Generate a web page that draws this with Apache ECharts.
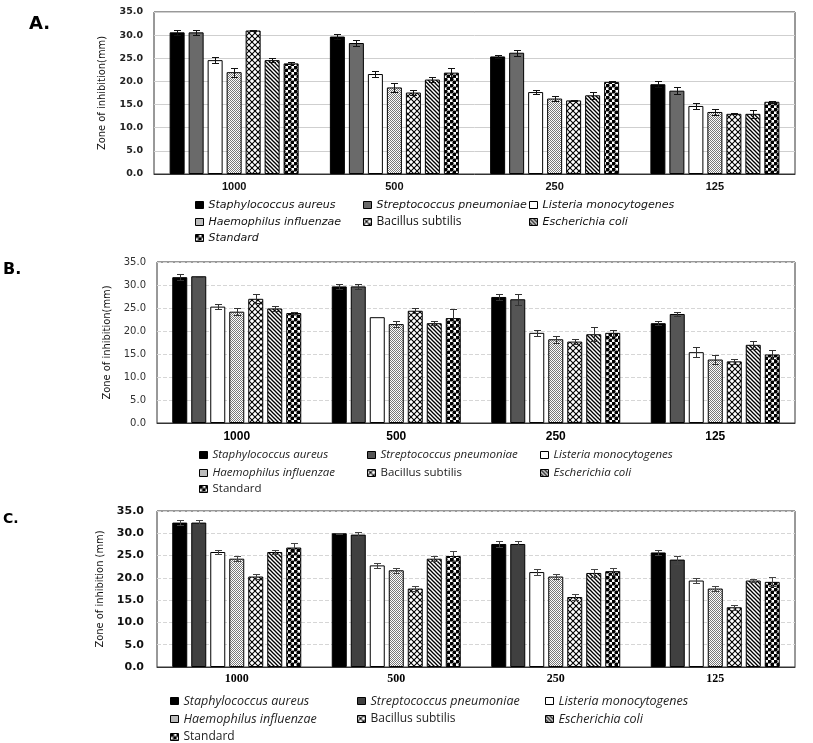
<!DOCTYPE html>
<html><head><meta charset="utf-8">
<script src="https://cdn.jsdelivr.net/npm/echarts@6/dist/echarts.min.js"></script>
<style>html,body{margin:0;padding:0;background:#fff}#c{width:813px;height:743px}</style>
</head><body><div id="c"></div>
<script>
// ---------- DATA ----------
const categories = ['1000', '500', '250', '125'];
const species = ['Staphylococcus aureus', 'Streptococcus pneumoniae', 'Listeria monocytogenes',
  'Haemophilus influenzae', 'Bacillus subtilis', 'Escherichia coli', 'Standard'];

// Panel A
const aStaph = [30.6, 29.7, 25.4, 19.4];
const aStrep = [30.6, 28.3, 26.2, 18.0];
const aList  = [24.6, 21.6, 17.7, 14.7];
const aHaem  = [22.0, 18.7, 16.3, 13.4];
const aBac   = [31.0, 17.6, 15.9, 13.0];
const aEcoli = [24.6, 20.4, 17.0, 13.0];
const aStd   = [23.9, 21.9, 19.9, 15.6];
const aStaphErr = [0.6, 0.5, 0.4, 0.6];
const aStrepErr = [0.6, 0.6, 0.6, 0.7];
const aListErr  = [0.6, 0.6, 0.4, 0.6];
const aHaemErr  = [1.0, 1.0, 0.5, 0.6];
const aBacErr   = [0.1, 0.6, 0.1, 0.1];
const aEcoliErr = [0.5, 0.5, 0.8, 0.9];
const aStdErr   = [0.2, 1.0, 0.1, 0.2];

// Panel B
const bStaph = [31.7, 29.7, 27.4, 21.7];
const bStrep = [31.9, 29.7, 26.9, 23.7];
const bList  = [25.3, 23.0, 19.6, 15.4];
const bHaem  = [24.2, 21.5, 18.2, 13.8];
const bBac   = [27.0, 24.4, 17.7, 13.4];
const bEcoli = [24.9, 21.7, 19.3, 17.0];
const bStd   = [23.9, 22.8, 19.6, 14.9];
const bStaphErr = [0.6, 0.6, 0.6, 0.5];
const bStrepErr = [0.1, 0.6, 1.2, 0.5];
const bListErr  = [0.6, 0.05, 0.6, 1.1];
const bHaemErr  = [0.7, 0.6, 0.7, 1.0];
const bBacErr   = [1.0, 0.5, 0.6, 0.5];
const bEcoliErr = [0.5, 0.5, 1.5, 0.9];
const bStdErr   = [0.2, 1.9, 0.7, 1.0];

// Panel C
const cStaph = [32.4, 30.0, 27.6, 25.7];
const cStrep = [32.4, 29.7, 27.6, 24.1];
const cList  = [25.8, 22.8, 21.3, 19.4];
const cHaem  = [24.3, 21.7, 20.3, 17.6];
const cBac   = [20.3, 17.6, 15.7, 13.4];
const cEcoli = [25.8, 24.3, 21.1, 19.4];
const cStd   = [26.8, 24.9, 21.5, 19.1];
const cStaphErr = [0.6, 0.05, 0.6, 0.6];
const cStrepErr = [0.6, 0.5, 0.6, 0.9];
const cListErr  = [0.5, 0.6, 0.6, 0.5];
const cHaemErr  = [0.6, 0.6, 0.5, 0.5];
const cBacErr   = [0.5, 0.5, 0.6, 0.5];
const cEcoliErr = [0.4, 0.6, 0.9, 0.4];
const cStdErr   = [1.1, 1.2, 0.8, 1.0];

const yMin = 0, yMax = 35, yStep = 5;

// ---------- STYLE / LAYOUT ----------
const BAR_W = 15, BAR_GAP_PX = 4, PITCH = BAR_W + BAR_GAP_PX, CAP = 7;

function makePattern(kind) {
  const c = document.createElement('canvas');
  let ctx;
  if (kind === 'haem') {
    c.width = c.height = 4; ctx = c.getContext('2d');
    ctx.fillStyle = '#fff'; ctx.fillRect(0, 0, 4, 4);
    ctx.fillStyle = '#7a7a7a';
    for (let y = 0; y < 4; y++) for (let x = 0; x < 4; x++) if ((x + y) % 2 === 0) ctx.fillRect(x, y, 1, 1);
  } else if (kind === 'bac') {
    c.width = c.height = 6; ctx = c.getContext('2d');
    ctx.fillStyle = '#fff'; ctx.fillRect(0, 0, 6, 6);
    ctx.strokeStyle = '#000'; ctx.lineWidth = 1.1;
    for (const k of [-6, 0, 6]) {
      ctx.beginPath(); ctx.moveTo(-2, -2 + k); ctx.lineTo(8, 8 + k); ctx.stroke();
      ctx.beginPath(); ctx.moveTo(-2, 8 + k); ctx.lineTo(8, -2 + k); ctx.stroke();
    }
  } else if (kind === 'ecoli') {
    c.width = c.height = 4; ctx = c.getContext('2d');
    ctx.fillStyle = '#fff'; ctx.fillRect(0, 0, 4, 4);
    ctx.strokeStyle = '#000'; ctx.lineWidth = 1.3;
    for (const k of [-4, 0, 4]) { ctx.beginPath(); ctx.moveTo(-1, -1 + k); ctx.lineTo(5, 5 + k); ctx.stroke(); }
  } else if (kind === 'std') {
    c.width = c.height = 6; ctx = c.getContext('2d');
    ctx.fillStyle = '#fff'; ctx.fillRect(0, 0, 6, 6);
    ctx.fillStyle = '#000';
    for (const [x, y] of [[1.5, 1.5], [4.5, 4.5]]) { ctx.beginPath(); ctx.arc(x, y, 2.1, 0, Math.PI * 2); ctx.fill(); }
  }
  return { image: c, repeat: 'repeat' };
}

const panels = [
  {
    id: 'A', label: 'A.', labelPos: [29, 15], labelSize: 18,
    grid: { left: 154, right: 18, top: 12, height: 162 },
    values: [aStaph, aStrep, aList, aHaem, aBac, aEcoli, aStd],
    errors: [aStaphErr, aStrepErr, aListErr, aHaemErr, aBacErr, aEcoliErr, aStdErr],
    strepColor: '#6a6a6a', errColor: '#111',
    yTitle: 'Zone of inhibition(mm)', nameGap: 46,
    yLabel: { fontFamily: 'DejaVu Sans', fontWeight: 'bold', fontSize: 9.5, color: '#222', margin: 11 },
    xLabel: { fontFamily: 'Liberation Sans, Arial', fontWeight: 'bold', fontSize: 11, color: '#111', margin: 7 },
    split: { color: '#cfcfcf', type: 'solid' },
    legendCols: [195, 363, 529], legendRows: [205, 222, 238],
    legendFont: { fontFamily: 'DejaVu Sans', fontSize: 11, color: '#111' },
    italic: [1, 1, 1, 1, 0, 1, 1],
    plainFont: { fontFamily: 'Open Sans', fontSize: 12 }
  },
  {
    id: 'B', label: 'B.', labelPos: [3, 262], labelSize: 16,
    grid: { left: 157, right: 18, top: 262, height: 161 },
    values: [bStaph, bStrep, bList, bHaem, bBac, bEcoli, bStd],
    errors: [bStaphErr, bStrepErr, bListErr, bHaemErr, bBacErr, bEcoliErr, bStdErr],
    strepColor: '#555555', errColor: '#333',
    yTitle: 'Zone of inhibition(mm)', nameGap: 44,
    yLabel: { fontFamily: 'DejaVu Sans', fontWeight: 'normal', fontSize: 10, color: '#333', margin: 11 },
    xLabel: { fontFamily: 'Liberation Sans, Arial', fontWeight: 'bold', fontSize: 12, color: '#000', margin: 8 },
    split: { color: '#d6d6d6', type: 'dashed' },
    legendCols: [199, 367, 540], legendRows: [455, 473, 489],
    legendFont: { fontFamily: 'Open Sans', fontSize: 11.5, color: '#222' },
    italic: [1, 1, 1, 1, 0, 1, 0],
    plainFont: { fontFamily: 'Open Sans', fontSize: 11.5 }
  },
  {
    id: 'C', label: 'C.', labelPos: [3, 512], labelSize: 14,
    grid: { left: 157, right: 18, top: 511, height: 156 },
    values: [cStaph, cStrep, cList, cHaem, cBac, cEcoli, cStd],
    errors: [cStaphErr, cStrepErr, cListErr, cHaemErr, cBacErr, cEcoliErr, cStdErr],
    strepColor: '#404040', errColor: '#444',
    yTitle: 'Zone of inhibition (mm)', nameGap: 47,
    yLabel: { fontFamily: 'DejaVu Sans', fontWeight: 'bold', fontSize: 11, color: '#111', margin: 13 },
    xLabel: { fontFamily: 'Liberation Serif, serif', fontWeight: 'bold', fontSize: 12, color: '#000', margin: 6 },
    split: { color: '#d6d6d6', type: 'dashed' },
    legendCols: [170, 357, 545], legendRows: [701, 719, 737],
    legendFont: { fontFamily: 'Open Sans', fontSize: 12.5, color: '#222' },
    italic: [1, 1, 1, 1, 0, 1, 0],
    plainFont: { fontFamily: 'Open Sans', fontSize: 12 }
  }
];

function fills(p) {
  return ['#000000', p.strepColor, '#ffffff', makePattern('haem'), makePattern('bac'), makePattern('ecoli'), makePattern('std')];
}

function errRender(color) {
  return function (params, api) {
    const ci = api.value(0), si = api.value(1), v = api.value(2), e = api.value(3);
    const base = api.coord([ci, v]);
    const x = Math.round(base[0] + (si - 3) * PITCH) + 0.5;
    const yt = Math.round(api.coord([ci, v + e])[1]) + 0.5;
    const yb = Math.round(api.coord([ci, v - e])[1]) + 0.5;
    const h = CAP / 2;
    const st = { stroke: color, lineWidth: 1 };
    return {
      type: 'group', children: [
        { type: 'line', shape: { x1: x, y1: yt, x2: x, y2: yb }, style: st },
        { type: 'line', shape: { x1: x - h, y1: yt, x2: x + h, y2: yt }, style: st },
        { type: 'line', shape: { x1: x - h, y1: yb, x2: x + h, y2: yb }, style: st }
      ]
    };
  };
}

const option = {
  animation: false,
  backgroundColor: '#fff',
  title: [], grid: [], xAxis: [], yAxis: [], series: [], legend: []
};

const axisFont = "'Liberation Sans Narrow', 'DejaVu Sans Condensed', 'Roboto Condensed', Arial";

panels.forEach((p, pi) => {
  option.title.push({
    text: p.label, left: p.labelPos[0], top: p.labelPos[1], padding: 0,
    textStyle: { fontFamily: 'DejaVu Sans', fontWeight: 'bold', fontSize: p.labelSize, color: '#000' }
  });
  option.grid.push(Object.assign({ show: true, borderColor: '#333', borderWidth: 1 }, p.grid));
  option.xAxis.push({
    type: 'category', gridIndex: pi, data: categories,
    axisTick: { show: false }, axisLine: { show: true, lineStyle: { color: '#333' } },
    axisLabel: p.xLabel
  });
  option.yAxis.push({
    type: 'value', gridIndex: pi, min: yMin, max: yMax, interval: yStep,
    name: p.yTitle, nameLocation: 'middle', nameRotate: 90, nameGap: p.nameGap,
    nameTextStyle: { fontFamily: axisFont, fontSize: 11, color: '#111' },
    axisLine: { show: false }, axisTick: { show: false },
    axisLabel: Object.assign({ formatter: v => v.toFixed(1) }, p.yLabel),
    splitLine: { show: true, lineStyle: { color: p.split.color, type: p.split.type, width: 1 } }
  });
  const f = fills(p);
  species.forEach((s, si) => {
    option.series.push({
      type: 'bar', name: p.id + '|' + s, xAxisIndex: pi, yAxisIndex: pi,
      data: p.values[si], barWidth: BAR_W, barGap: (BAR_GAP_PX / BAR_W * 100) + '%',
      itemStyle: { color: f[si], borderColor: '#000', borderWidth: 1 },
      silent: true, z: 2
    });
  });
  const errData = [];
  species.forEach((s, si) => {
    p.values[si].forEach((v, ci) => errData.push([ci, si, v, p.errors[si][ci]]));
  });
  option.series.push({
    type: 'custom', name: p.id + '|err', xAxisIndex: pi, yAxisIndex: pi,
    data: errData, encode: { x: 0, y: 2 }, renderItem: errRender(p.errColor),
    silent: true, z: 5
  });
  species.forEach((s, si) => {
    const r = Math.floor(si / 3), c = si % 3;
    const ts = p.italic[si]
      ? Object.assign({ fontStyle: 'italic' }, p.legendFont)
      : Object.assign({}, p.legendFont, p.plainFont, { fontStyle: 'normal' });
    option.legend.push({
      left: p.legendCols[c], top: p.legendRows[r] - 7, padding: 0, itemGap: 0,
      itemWidth: 8, itemHeight: 7, icon: 'rect', selectedMode: false,
      data: [{ name: p.id + '|' + s, textStyle: ts }],
      formatter: n => n.split('|')[1],
      textStyle: Object.assign({ lineHeight: 14 }, ts),
      itemStyle: { borderWidth: 1, borderColor: '#000' }
    });
  });
});

const chart = echarts.init(document.getElementById('c'), null, { renderer: 'canvas' });
chart.setOption(option);
</script>
</body></html>
